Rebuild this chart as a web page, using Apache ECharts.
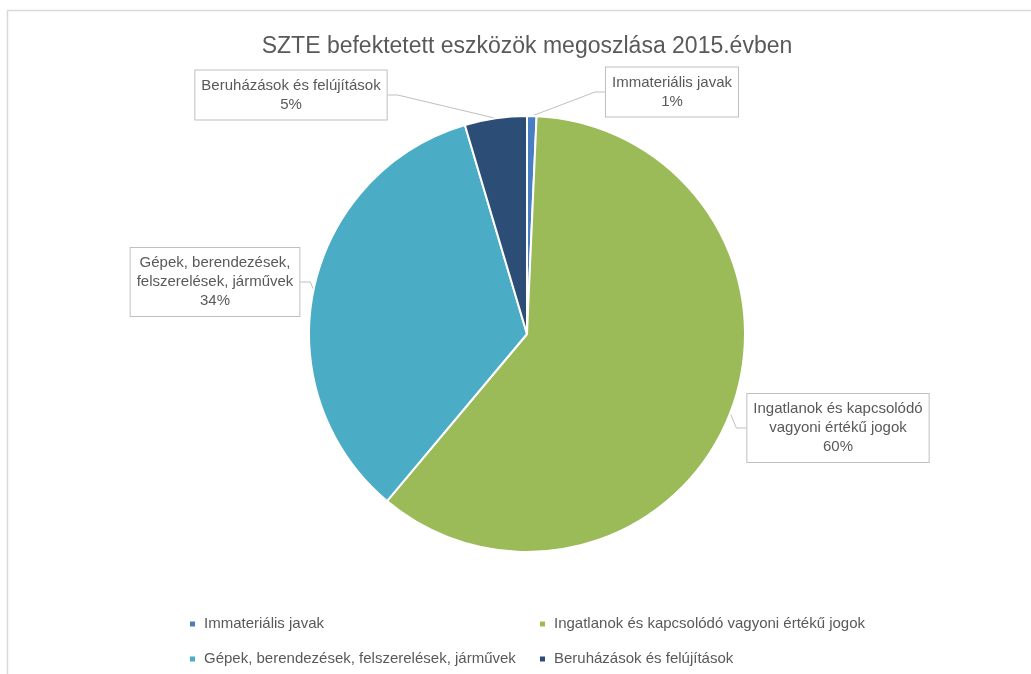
<!DOCTYPE html>
<html>
<head>
<meta charset="utf-8">
<script src="https://cdn.jsdelivr.net/npm/echarts@6/dist/echarts.min.js"></script>
<style>
html,body{margin:0;padding:0;background:#fff;}
#chart{width:1031px;height:674px;}
</style>
</head>
<body>
<div id="chart"></div>
<script>
const categories = [
  'Immateriális javak',
  'Ingatlanok és kapcsolódó vagyoni értékű jogok',
  'Gépek, berendezések, felszerelések, járművek',
  'Beruházások és felújítások'
];
const labelNames = [
  'Immateriális javak',
  'Ingatlanok és kapcsolódó\nvagyoni értékű jogok',
  'Gépek, berendezések,\nfelszerelések, járművek',
  'Beruházások és felújítások'
];
const values = [0.7, 60.4, 34.3, 4.6];
const colors = ['#4A7EC2', '#9BBB59', '#4BACC6', '#2C4D75'];

const FONT = 'Liberation Sans';
const TXT = '#595959';
// label box centres (layout only)
const labelPos = [
  {x: 672, y: 92},
  {x: 838, y: 428},
  {x: 215, y: 282},
  {x: 291, y: 95}
];
// legend item positions (layout only)
const legendPos = [
  {left: 188, top: 615},
  {left: 538, top: 615},
  {left: 188, top: 650},
  {left: 538, top: 650}
];

const chart = echarts.init(document.getElementById('chart'), null, {renderer: 'canvas'});
chart.setOption({
  backgroundColor: '#fff',
  animation: false,
  color: colors,
  title: {
    text: 'SZTE befektetett eszközök megoszlása 2015.évben',
    left: 522, top: 30, textAlign: 'center',
    textStyle: {fontFamily: FONT, fontSize: 23, fontWeight: 'normal', color: TXT}
  },
  graphic: [{
    type: 'rect',
    shape: {x: 7.5, y: 10.5, width: 1100, height: 800},
    style: {fill: 'none', stroke: '#D9D9D9', lineWidth: 1.5},
    silent: true, z: -1
  }],
  legend: categories.map((c, i) => ({
    data: [c],
    left: legendPos[i].left, top: legendPos[i].top,
    padding: 0,
    itemWidth: 7, itemHeight: 7, itemGap: 0, icon: 'rect',
    textStyle: {fontFamily: FONT, fontSize: 15, color: TXT, lineHeight: 18, padding: [0, 0, 0, 3]}
  })),
  series: [{
    type: 'pie',
    center: [527, 334],
    radius: [0, 218],
    startAngle: 90,
    clockwise: true,
    percentPrecision: 0,
    itemStyle: {borderColor: '#fff', borderWidth: 2},
    data: categories.map((c, i) => ({name: c, value: values[i]})),
    label: {
      show: true,
      position: 'outside',
      formatter: p => labelNames[p.dataIndex] + '\n' + p.percent + '%',
      fontFamily: FONT, fontSize: 15, color: TXT, lineHeight: 19,
      align: 'center',
      backgroundColor: '#fff',
      borderColor: '#BFBFBF', borderWidth: 1,
      padding: [6, 6, 5, 6]
    },
    labelLine: {show: true, length: 10, length2: 10, lineStyle: {color: '#BFBFBF', width: 1}},
    labelLayout: p => ({
      x: labelPos[p.dataIndex].x,
      y: labelPos[p.dataIndex].y,
      align: 'center',
      verticalAlign: 'middle'
    }),
    emphasis: {disabled: true}
  }]
});
</script>
</body>
</html>
